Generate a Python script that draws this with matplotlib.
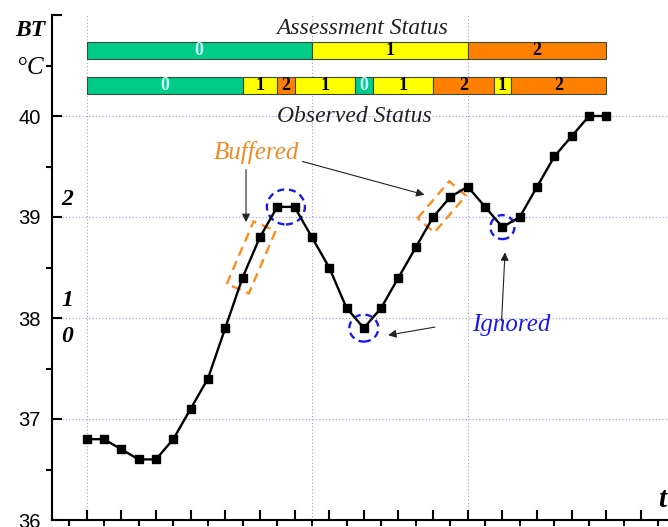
import matplotlib
matplotlib.use('Agg')
import numpy as np
import matplotlib.pyplot as plt
from matplotlib.patches import Polygon, Ellipse

# ---------------- data ----------------
t = list(range(31))
bt = [36.8, 36.8, 36.7, 36.6, 36.6, 36.8, 37.1, 37.4, 37.9, 38.4,
      38.8, 39.1, 39.1, 38.8, 38.5, 38.1, 37.9, 38.1, 38.4, 38.7,
      39.0, 39.2, 39.3, 39.1, 38.9, 39.0, 39.3, 39.6, 39.8, 40.0, 40.0]

# status bars: segment edges (in t) and status levels
assess_edges = [0, 13, 22, 30]
assess_status = [0, 1, 2]
observ_edges = [0, 9, 11, 12, 15.5, 16.5, 20, 23.5, 24.5, 30]
observ_status = [0, 1, 2, 1, 0, 1, 2, 1, 2]

y_ticks = [36, 37, 38, 39, 40, 41]
y_labels = ['36', '37', '38', '39', '40', '']
grid_y = [37, 38, 39, 40]
grid_t = [0, 13, 22]

buffered_pairs = [(9, 10), (20, 21)]   # point index pairs in orange boxes
ignored_groups = [(11, 12), (16, 16), (24, 24)]  # circled points

status_colors = {0: '#00cc88', 1: '#ffff00', 2: '#ff8000'}
status_txt = {0: '#c8ffff', 1: 'black', 2: 'black'}

serif = 'Liberation Serif'
sans = 'Liberation Sans'

# ---------------- figure ----------------
fig = plt.figure(figsize=(6.68, 5.27), dpi=100)
ax = fig.add_axes([52/668, 7/527, 641/668, 505/527])
ax.set_xlim(-2, 35)
ax.set_ylim(36, 41)

for s in ['top', 'right']:
    ax.spines[s].set_visible(False)
for s in ['left', 'bottom']:
    ax.spines[s].set_linewidth(1.5)

ax.set_yticks(y_ticks)
ax.set_yticklabels(y_labels, fontfamily=sans, fontsize=14.5)
ax.set_yticks(np.arange(36.5, 41, 1.0), minor=True)
ax.set_xticks(np.arange(-2, 36, 2))
ax.set_xticks(np.arange(-1, 36, 2), minor=True)
ax.set_xticklabels([])
ax.tick_params(axis='both', which='major', direction='in', length=7, width=1.5)
ax.tick_params(axis='both', which='minor', direction='out', length=4, width=1.5)
ax.tick_params(axis='y', which='major', pad=8)

# dotted guide grid
for g in grid_y:
    ax.axhline(g, color='#9a9ae6', lw=0.8, ls=(0, (1, 2)), zorder=0)
for g in grid_t:
    ax.axvline(g, color='#9a9ae6', lw=0.8, ls=(0, (1, 2)), zorder=0)

# main series
ax.plot(t, bt, color='black', lw=1.7, marker='s', ms=6, zorder=4)


# status bars
def status_bar(edges, levels, ymid, h):
    for i, lv in enumerate(levels):
        x0, x1 = edges[i], edges[i + 1]
        ax.barh(ymid, x1 - x0, left=x0, height=h, color=status_colors[lv],
                edgecolor='#3a4a3a', linewidth=0.8, zorder=3)
        ax.text((x0 + x1) / 2, ymid, str(lv), ha='center', va='center',
                fontfamily=serif, fontweight='bold', fontsize=13,
                color=status_txt[lv], zorder=5)


status_bar(assess_edges, assess_status, 40.645, 0.17)
status_bar(observ_edges, observ_status, 40.30, 0.165)

ax.text(15.9, 40.87, 'Assessment Status', ha='center', va='center',
        fontfamily=serif, fontstyle='italic', fontsize=17, color='#222222')
ax.text(15.45, 40.0, 'Observed Status', ha='center', va='center',
        fontfamily=serif, fontstyle='italic', fontsize=17, color='#222222',
        zorder=5)

# axis captions
fig.text(30/668, 1 - 30/527, 'BT', ha='center', va='center', fontfamily=serif,
         fontstyle='italic', fontweight='bold', fontsize=17)
fig.text(30/668, 1 - 68/527, '°C', ha='center', va='center', fontfamily=serif,
         fontstyle='italic', fontsize=18)
ax.text(33.2, 36.2, 't', ha='center', va='center', fontfamily=serif,
        fontstyle='italic', fontweight='bold', fontsize=21)

# level marks at the left
for lab, yv in [('2', 39.17), ('1', 38.17), ('0', 37.82)]:
    ax.text(-1.1, yv, lab, ha='center', va='center', fontfamily=serif,
            fontstyle='italic', fontweight='bold', fontsize=17)

# ---- annotations built from the data points in pixel space ----
tr = ax.transData
inv = tr.inverted()


def dashed_box(i, j, ext, half_w):
    p0 = tr.transform((t[i], bt[i]))
    p1 = tr.transform((t[j], bt[j]))
    d = (p1 - p0) / np.linalg.norm(p1 - p0)
    n = np.array([-d[1], d[0]])
    a = p0 - d * ext
    b = p1 + d * ext
    corners = [a + n * half_w, b + n * half_w, b - n * half_w, a - n * half_w]
    pts = inv.transform(np.array(corners))
    ax.add_patch(Polygon(pts, closed=True, fill=False, ec='#ff8c1a',
                         lw=1.7, ls=(0, (4, 2.5)), zorder=3))


def dashed_ring(idx, w_px, h_px):
    cx = np.mean([t[k] for k in idx])
    cy = np.mean([bt[k] for k in idx])
    sx = tr.transform((1, 0))[0] - tr.transform((0, 0))[0]
    sy = tr.transform((0, 1))[1] - tr.transform((0, 0))[1]
    ax.add_patch(Ellipse((cx, cy), w_px / sx, h_px / sy, fill=False,
                         ec='#1a1aee', lw=1.7, ls=(0, (3, 2)), zorder=3))


dashed_box(*buffered_pairs[0], 12, 12)
dashed_box(*buffered_pairs[1], 11, 11)
dashed_ring(ignored_groups[0], 38, 35)
dashed_ring(ignored_groups[1], 29, 27)
dashed_ring(ignored_groups[2], 24, 24)

arrow = dict(arrowstyle='-|>', color='#222222', lw=0.8, mutation_scale=12,
             shrinkA=0, shrinkB=0)
ax.text(9.8, 39.64, 'Buffered', ha='center', va='center', fontfamily=serif,
        fontstyle='italic', fontsize=18, color='#f08a24')
ax.annotate('', xy=(9.2, 38.95), xytext=(9.2, 39.47), arrowprops=arrow)
ax.annotate('', xy=(19.5, 39.22), xytext=(12.45, 39.55), arrowprops=arrow)

ax.text(24.5, 37.93, 'Ignored', ha='center', va='center', fontfamily=serif,
        fontstyle='italic', fontsize=18, color='#1a1aee')
ax.annotate('', xy=(17.4, 37.83), xytext=(20.1, 37.91), arrowprops=arrow)
ax.annotate('', xy=(24.15, 38.65), xytext=(23.95, 37.97), arrowprops=arrow)

fig.savefig('out.png', dpi=100)
